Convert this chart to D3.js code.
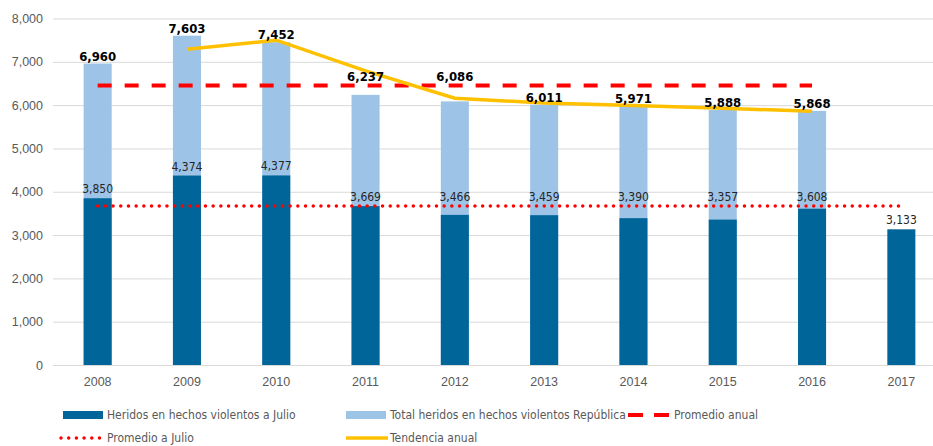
<!DOCTYPE html>
<html>
<head>
<meta charset="utf-8">
<script src="https://cdn.jsdelivr.net/npm/d3@7"></script>
<style>
  body { margin: 0; background: #fff; }
  svg { display: block; font-family: "DejaVu Sans Condensed", "Liberation Sans Narrow", "Arial Narrow", sans-serif; }
</style>
</head>
<body>
<script>
// Data
var years = ["2008", "2009", "2010", "2011", "2012", "2013", "2014", "2015", "2016", "2017"];
var heridosJulio = [3850, 4374, 4377, 3669, 3466, 3459, 3390, 3357, 3608, 3133];
var totalRepublica = [6960, 7603, 7452, 6237, 6086, 6011, 5971, 5888, 5868, null];
var tendencia = [null, 7290, 7500, 6790, 6160, 6050, 5990, 5925, 5860, null];
var yTicks = [0, 1000, 2000, 3000, 4000, 5000, 6000, 7000, 8000];
var liftAboveAverage = ["2011", "2012"];

var width = 933;
var height = 446;

var promedioAnual = d3.mean(totalRepublica.filter(function(d) { return d != null; }));
var promedioJulio = d3.mean(heridosJulio);

var svg = d3.select("body")
            .append("svg")
            .attr("width", width)
            .attr("height", height);

var x = d3.scaleBand()
          .domain(years)
          .range([53, 946])
          .paddingInner(0.686)
          .paddingOuter(0.343);

var y = d3.scaleLinear()
          .domain([0, 8000])
          .range([365, 18.5]);

var fmt = d3.format(",");
var cx = function(yr) { return x(yr) + x.bandwidth() / 2; };

// Grid + y axis
var yAxis = d3.axisLeft(y)
              .tickValues(yTicks)
              .tickSize(-(width - 53))
              .tickPadding(10)
              .tickFormat(fmt);

svg.append("g")
   .attr("class", "y-axis")
   .attr("transform", "translate(53,0)")
   .call(yAxis)
   .call(function(g) {
     g.select(".domain").remove();
     g.selectAll("line").attr("stroke", "#d9d9d9").attr("stroke-width", 1);
     g.selectAll("text").attr("fill", "#595959").attr("font-size", "12.5px");
   });

// x axis
var xAxis = d3.axisBottom(x).tickSize(0).tickPadding(12);
svg.append("g")
   .attr("class", "x-axis")
   .attr("transform", "translate(0,365)")
   .call(xAxis)
   .call(function(g) {
     g.select(".domain").attr("stroke", "#d9d9d9");
     g.selectAll("text").attr("fill", "#595959").attr("font-size", "12.5px");
   });

// Total bars (behind)
svg.selectAll("rect.total")
   .data(years.map(function(d, i) { return { year: d, v: totalRepublica[i] }; }).filter(function(d) { return d.v != null; }))
   .enter()
   .append("rect")
   .attr("class", "total")
   .attr("x", function(d) { return x(d.year); })
   .attr("y", function(d) { return y(d.v); })
   .attr("width", x.bandwidth())
   .attr("height", function(d) { return y(0) - y(d.v); })
   .attr("fill", "#9dc3e6");

// July bars
svg.selectAll("rect.julio")
   .data(years.map(function(d, i) { return { year: d, v: heridosJulio[i] }; }))
   .enter()
   .append("rect")
   .attr("class", "julio")
   .attr("x", function(d) { return x(d.year); })
   .attr("y", function(d) { return y(d.v); })
   .attr("width", x.bandwidth())
   .attr("height", function(d) { return y(0) - y(d.v); })
   .attr("fill", "#006699");

// Promedio a Julio (dotted)
svg.append("line")
   .attr("x1", cx(years[0]))
   .attr("x2", cx(years[years.length - 1]))
   .attr("y1", y(promedioJulio))
   .attr("y2", y(promedioJulio))
   .attr("stroke", "#ff0000")
   .attr("stroke-width", 3.5)
   .attr("stroke-linecap", "round")
   .attr("stroke-dasharray", "0 7.7");

// Promedio anual (dashed)
svg.append("line")
   .attr("x1", cx("2008"))
   .attr("x2", cx("2016"))
   .attr("y1", y(promedioAnual))
   .attr("y2", y(promedioAnual))
   .attr("stroke", "#ff0000")
   .attr("stroke-width", 4)
   .attr("stroke-dasharray", "14 13");

// Tendencia anual
var line = d3.line()
             .defined(function(d) { return d.v != null; })
             .x(function(d) { return cx(d.year); })
             .y(function(d) { return y(d.v); });

svg.append("path")
   .datum(years.map(function(d, i) { return { year: d, v: tendencia[i] }; }))
   .attr("d", line)
   .attr("fill", "none")
   .attr("stroke", "#ffc000")
   .attr("stroke-width", 3.5);

// Labels: totals
svg.selectAll("text.tot")
   .data(years.map(function(d, i) { return { year: d, v: totalRepublica[i] }; }).filter(function(d) { return d.v != null; }))
   .enter()
   .append("text")
   .attr("class", "tot")
   .attr("x", function(d) { return cx(d.year); })
   .attr("y", function(d) {
     var b = y(d.v) - 3;
     if (liftAboveAverage.indexOf(d.year) >= 0) b = y(promedioAnual) - 5;
     return b;
   })
   .attr("text-anchor", "middle")
   .attr("font-size", "13px")
   .attr("font-weight", "bold")
   .attr("fill", "#000")
   .text(function(d) { return fmt(d.v); });

// Labels: July
svg.selectAll("text.jul")
   .data(years.map(function(d, i) { return { year: d, v: heridosJulio[i], t: totalRepublica[i] }; }))
   .enter()
   .append("text")
   .attr("class", "jul")
   .attr("x", function(d) { return cx(d.year); })
   .attr("y", function(d) {
     var b = y(d.v) - 5;
     if (d.t != null) b = Math.min(b, y(promedioJulio) - 5);
     return b;
   })
   .attr("text-anchor", "middle")
   .attr("font-size", "12px")
   .attr("fill", "#262626")
   .text(function(d) { return fmt(d.v); });

// Legend
var legend = [
  { label: "Heridos en hechos violentos a Julio", type: "rect", color: "#006699", x: 63, y: 415 },
  { label: "Total heridos en hechos violentos República", type: "rect", color: "#9dc3e6", x: 346, y: 415 },
  { label: "Promedio anual", type: "dash", color: "#ff0000", x: 628, y: 415 },
  { label: "Promedio a Julio", type: "dot", color: "#ff0000", x: 61, y: 438 },
  { label: "Tendencia anual", type: "line", color: "#ffc000", x: 346, y: 438 }
];

var lg = svg.selectAll("g.legend")
            .data(legend)
            .enter()
            .append("g")
            .attr("class", "legend")
            .attr("transform", function(d) { return "translate(" + d.x + "," + d.y + ")"; });

lg.each(function(d) {
  var g = d3.select(this);
  var tx = 44;
  if (d.type === "rect") {
    g.append("rect").attr("x", 0).attr("y", -4).attr("width", 40).attr("height", 8).attr("fill", d.color);
  } else if (d.type === "dash") {
    g.append("line").attr("x1", 0).attr("x2", 41).attr("y1", 0).attr("y2", 0)
     .attr("stroke", d.color).attr("stroke-width", 4).attr("stroke-dasharray", "15 11");
    tx = 46;
  } else if (d.type === "dot") {
    g.append("line").attr("x1", 0).attr("x2", 41).attr("y1", 0).attr("y2", 0)
     .attr("stroke", d.color).attr("stroke-width", 3.5).attr("stroke-linecap", "round").attr("stroke-dasharray", "0 7.7");
    tx = 46;
  } else {
    g.append("line").attr("x1", 0).attr("x2", 42).attr("y1", 0).attr("y2", 0)
     .attr("stroke", d.color).attr("stroke-width", 3.5);
  }
  g.append("text").attr("x", tx).attr("y", 0).attr("dy", "0.35em")
   .attr("font-size", "12px").attr("fill", "#595959").text(d.label);
});
</script>
</body>
</html>
